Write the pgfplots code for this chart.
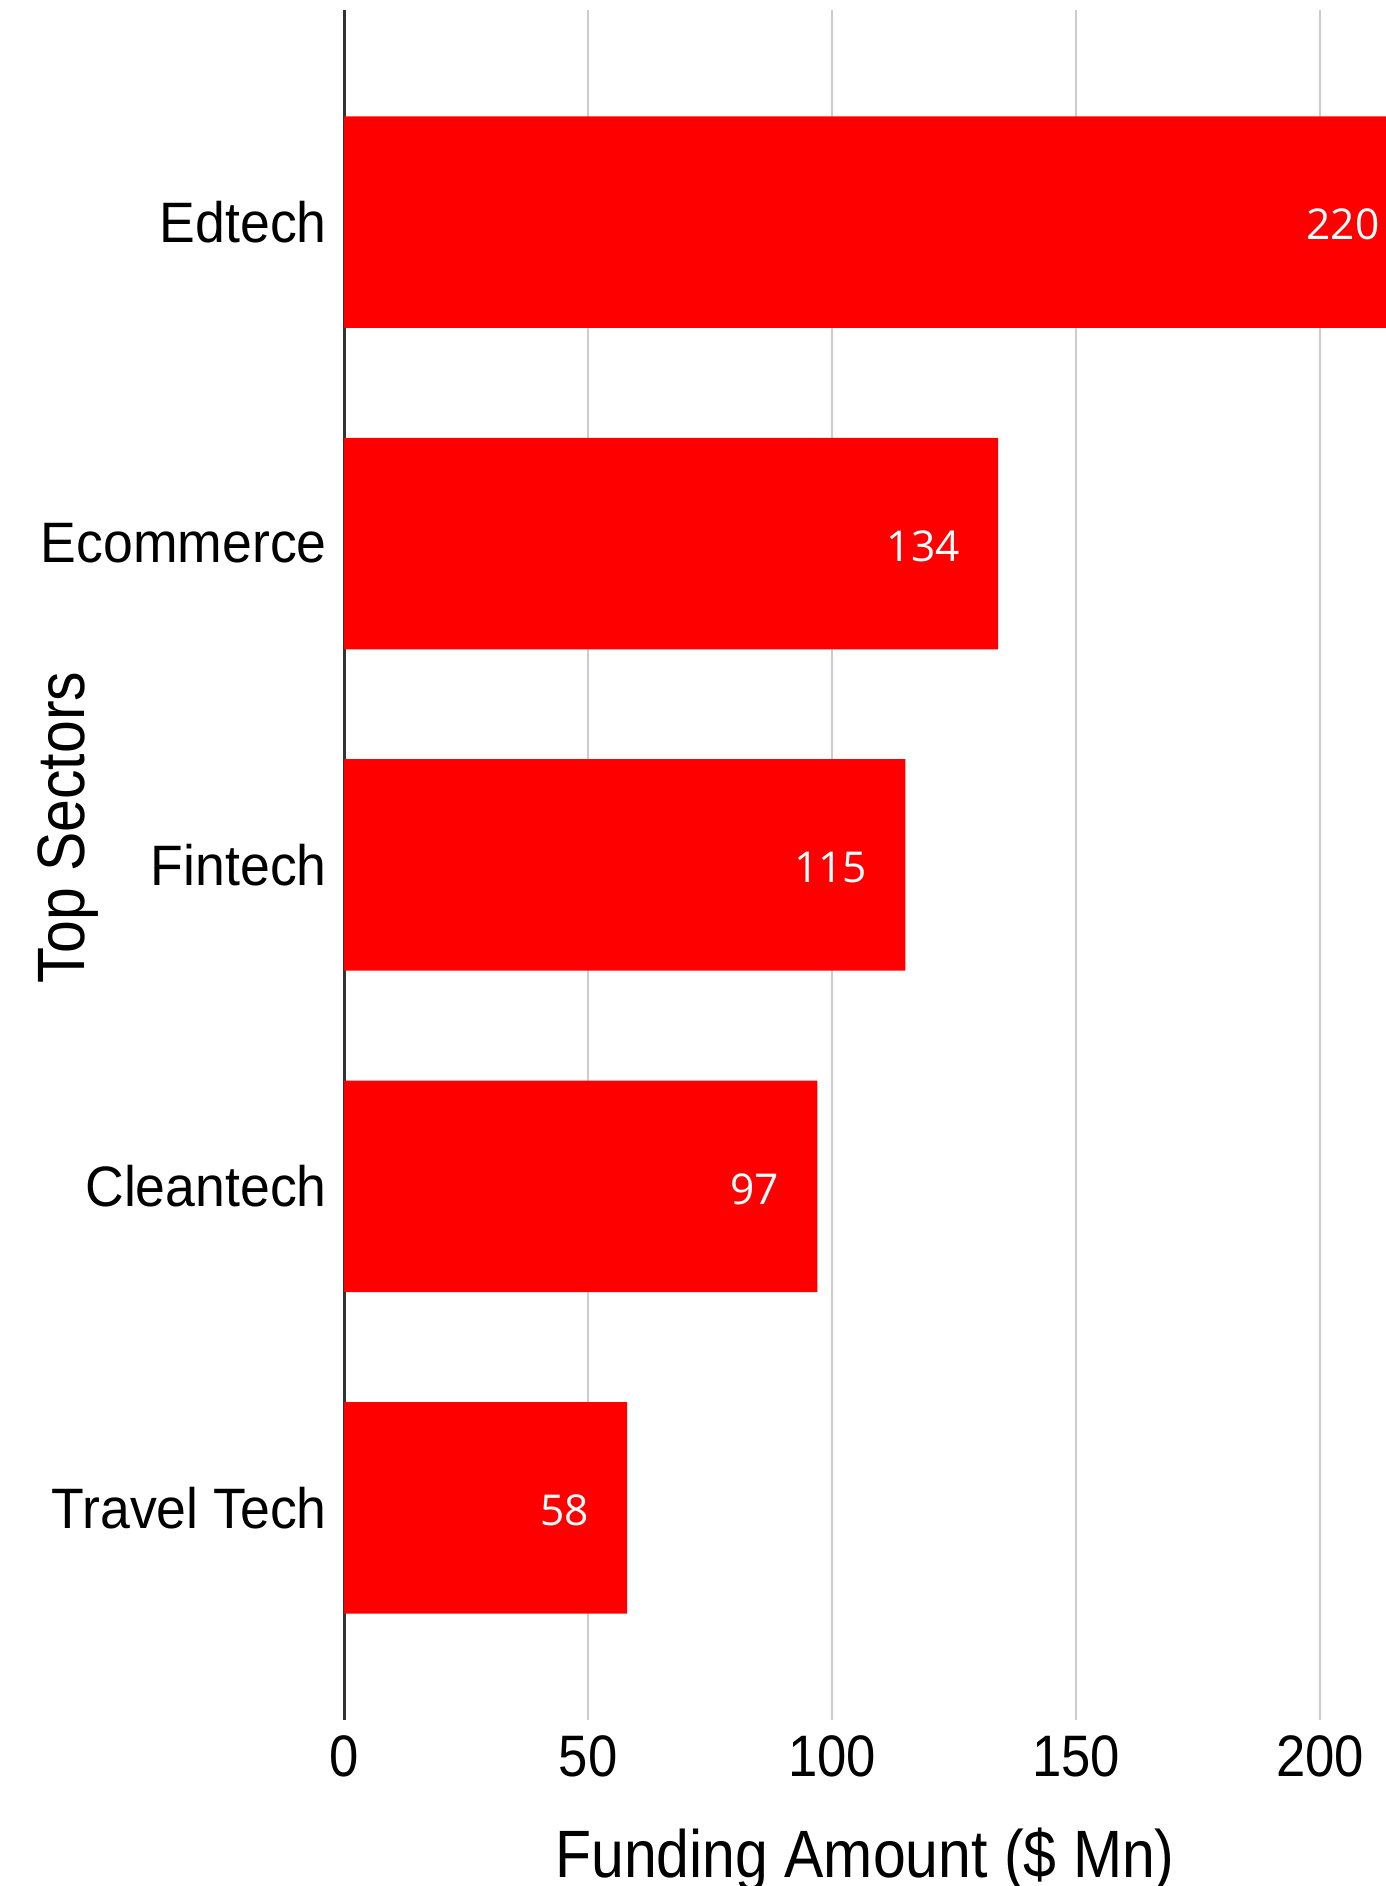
\documentclass[border=0pt]{standalone}
\usepackage{pgfplots}
\pgfplotsset{compat=1.18}
\usepackage{fontspec}
\setmainfont{Liberation Sans}
\newfontfamily\titlefont[FakeStretch=0.88]{Liberation Sans}
\newfontfamily\catfont[FakeStretch=0.94]{Liberation Sans}
\newfontfamily\tickfont[FakeStretch=0.9]{Liberation Sans}
\newfontfamily\valfont{Open Sans}
\begin{document}
\begin{tikzpicture}
\useasboundingbox (0,0) rectangle (277.2pt,377.2pt);
\begin{axis}[
 at={(68.8pt,33.2pt)}, anchor=south west,
 scale only axis, width=208.4pt, height=342pt,
 xbar, bar width=42.3pt,
 xmin=0, xmax=213.5, ymin=-0.66, ymax=4.66,
 ytick={0,1,2,3,4}, yticklabels={Travel Tech,Cleantech,Fintech,Ecommerce,Edtech},
 xtick={0,50,100,150,200},
 xmajorgrids, major grid style={color=black!20, line width=0.5pt},
 extra x ticks={0}, extra x tick labels={}, extra x tick style={major grid style={color=black!80,line width=0.6pt}},
 axis line style={draw=none}, tick style={draw=none},
 /pgf/number format/assume math mode=true,
 xticklabel style={font=\tickfont\fontsize{11.7}{12}\selectfont, inner sep=0pt, anchor=north, yshift=-3pt},
 yticklabel style={font=\catfont\fontsize{11.4}{12}\selectfont, inner sep=0pt, anchor=east, xshift=1pt},
 xlabel={Funding Amount (\$ Mn)},
 ylabel={Top Sectors},
 xlabel style={font=\titlefont\fontsize{13.4}{14}\selectfont, at={(axis description cs:0.5,0)}, anchor=base, yshift=-31.4pt},
 ylabel style={font=\titlefont\fontsize{13.4}{14}\selectfont, at={(axis description cs:-0.2495,0.522)}, anchor=base},
 clip=false,
 nodes near coords,
 every node near coord/.append style={font=\valfont\fontsize{8.5}{9}\selectfont, color=white, anchor=east, xshift=-4.1pt, yshift=-0.5pt},
]
\addplot[fill=red, draw=none] coordinates {(58,0) (97,1) (115,2) (134,3) (220,4)};
\end{axis}
\end{tikzpicture}
\end{document}
